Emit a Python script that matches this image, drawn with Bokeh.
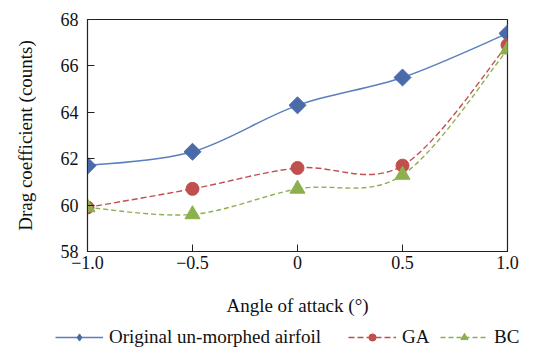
import math
from bokeh.plotting import figure
from bokeh.layouts import column
from bokeh.models import ColumnDataSource, Legend, LegendItem, FixedTicker, Range1d
from bokeh.embed import file_html
from bokeh.resources import INLINE

# ---- data ----
angles = [-1.0, -0.5, 0.0, 0.5, 1.0]
original = [61.7, 62.3, 64.3, 65.5, 67.4]
ga = [59.9, 60.7, 61.6, 61.7, 66.9]
bc = [59.9, 59.6, 60.7, 61.3, 66.7]
x_tick_labels = ["\u22121.0", "\u22120.5", "0", "0.5", "1.0"]
y_ticks = [58, 60, 62, 64, 66, 68]
series_names = ["Original un-morphed airfoil", "GA", "BC"]

FONT = "Liberation Serif"

def smooth_segments(xs, ys):
    """Bezier segments (Catmull-Rom style) passing through every data point."""
    n = len(xs)
    d = dict(x0=[], y0=[], x1=[], y1=[], cx0=[], cy0=[], cx1=[], cy1=[])
    for i in range(n - 1):
        xp, yp = (xs[i - 1], ys[i - 1]) if i > 0 else (xs[i], ys[i])
        xn, yn = (xs[i + 2], ys[i + 2]) if i + 2 < n else (xs[i + 1], ys[i + 1])
        d["x0"].append(xs[i]); d["y0"].append(ys[i])
        d["x1"].append(xs[i + 1]); d["y1"].append(ys[i + 1])
        d["cx0"].append(xs[i] + (xs[i + 1] - xp) / 6.0)
        d["cy0"].append(ys[i] + (ys[i + 1] - yp) / 6.0)
        d["cx1"].append(xs[i + 1] - (xn - xs[i]) / 6.0)
        d["cy1"].append(ys[i + 1] - (yn - ys[i]) / 6.0)
    return ColumnDataSource(d)

p = figure(width=544, height=318, output_backend="svg",
           toolbar_location=None,
           x_range=Range1d(-1.0, 1.0), y_range=Range1d(58, 68),
           min_border_left=87, min_border_right=37, min_border_top=19,
           min_border_bottom=67)
p.xgrid.visible = False
p.ygrid.visible = False
p.outline_line_color = "#222222"
p.outline_line_width = 1.2
p.background_fill_color = "white"
p.border_fill_color = "white"

styles = [
    dict(color="#5A7EC0", dash="solid", mcolor="#4A6BAA", marker="square",
         size=12, angle=math.pi / 4, lmarker="diamond", lsize=15),
    dict(color="#C0504D", dash="6 3", mcolor="#C0504D", marker="circle",
         size=13, angle=0.0, lmarker="circle", lsize=13),
    dict(color="#8DB04E", dash="5 3", mcolor="#8DB04E", marker="triangle",
         size=15, angle=0.0, lmarker="triangle", lsize=14),
]

# legend-only strip under the chart
lg = figure(width=544, height=30, output_backend="svg", toolbar_location=None,
            x_range=Range1d(0, 1), y_range=Range1d(0, 1),
            min_border_left=0, min_border_right=0, min_border_top=0,
            min_border_bottom=0, frame_align=False)
lg.axis.visible = False
lg.grid.visible = False
lg.outline_line_color = None
lg.border_fill_color = "white"
lg.background_fill_color = "white"

legend_x = [55, 348, 440]

for name, ys, st, lx in zip(series_names, [original, ga, bc], styles, legend_x):
    p.bezier(x0="x0", y0="y0", x1="x1", y1="y1", cx0="cx0", cy0="cy0",
             cx1="cx1", cy1="cy1", source=smooth_segments(angles, ys),
             line_color=st["color"], line_width=1.4, line_dash=st["dash"])
    p.scatter(x=angles, y=ys, marker=st["marker"], size=st["size"],
              angle=st["angle"], fill_color=st["mcolor"], line_color=st["mcolor"])
    # legend sample glyphs (no data drawn in the strip)
    ll = lg.line(x=[math.nan], y=[math.nan], line_color=st["color"],
                 line_width=1.4, line_dash=st["dash"])
    ls = lg.scatter(x=[math.nan], y=[math.nan], marker=st["lmarker"],
                    size=st["lsize"],
                    fill_color=st["mcolor"], line_color=st["mcolor"])
    leg = Legend(items=[LegendItem(label=name, renderers=[ll, ls])],
                 location=(lx, 0), orientation="horizontal",
                 label_text_font=FONT, label_text_font_size="19px",
                 label_text_color="#111111", glyph_width=48, glyph_height=18,
                 label_standoff=6, padding=0, margin=0,
                 border_line_color=None, background_fill_alpha=0)
    lg.add_layout(leg)

# axes
p.xaxis.ticker = FixedTicker(ticks=angles)
p.xaxis.major_label_overrides = {a: l for a, l in zip(angles, x_tick_labels)}
p.yaxis.ticker = FixedTicker(ticks=y_ticks)
p.xaxis.axis_label = "Angle of attack (\u00b0)"
p.yaxis.axis_label = "Drag coefficient (counts)"
for ax in (p.xaxis[0], p.yaxis[0]):
    ax.axis_line_color = "#222222"
    ax.major_tick_line_color = "#222222"
    ax.major_tick_in = 7
    ax.major_tick_out = 0
    ax.minor_tick_line_color = None
    ax.major_label_text_font = FONT
    ax.major_label_text_font_size = "18px"
    ax.major_label_text_color = "#111111"
    ax.axis_label_text_font = FONT
    ax.axis_label_text_font_size = "19px"
    ax.axis_label_text_font_style = "normal"
    ax.axis_label_text_color = "#111111"
p.xaxis.major_label_standoff = 4
p.xaxis.axis_label_standoff = 23
p.yaxis.major_label_standoff = 9
p.yaxis.axis_label_standoff = 22

layout = column(p, lg, spacing=0)
open("out.html", "w").write(file_html(layout, INLINE))
